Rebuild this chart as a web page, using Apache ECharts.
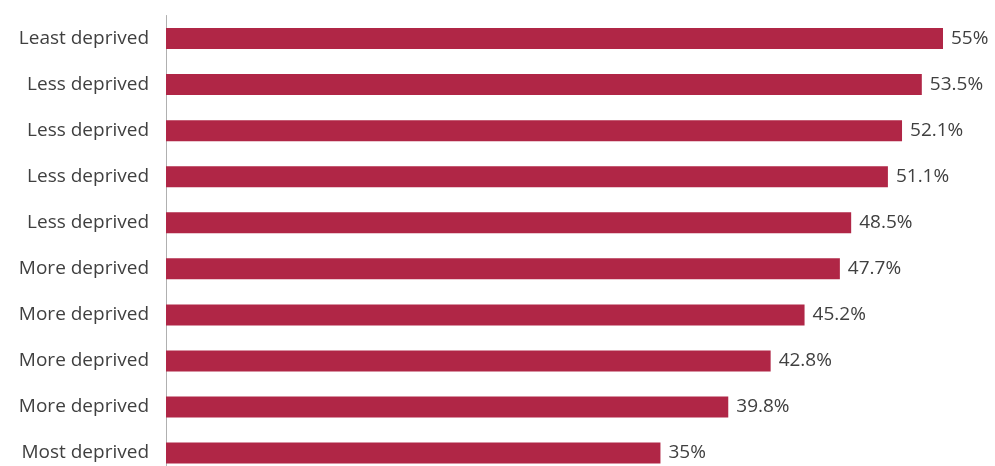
<!DOCTYPE html>
<html>
<head>
<meta charset="utf-8">
<script src="https://cdn.jsdelivr.net/npm/echarts@6/dist/echarts.min.js"></script>
<style>
html,body{margin:0;padding:0;background:#fff;}
#chart{width:995px;height:466px;}
</style>
</head>
<body>
<div id="chart"></div>
<script>
const categories = ["Least deprived","Less deprived","Less deprived","Less deprived","Less deprived","More deprived","More deprived","More deprived","More deprived","Most deprived"];
const values = [55, 53.5, 52.1, 51.1, 48.5, 47.7, 45.2, 42.8, 39.8, 35];

const chart = echarts.init(document.getElementById('chart'), null, {renderer:'canvas'});
chart.setOption({
  animation: false,
  backgroundColor: '#ffffff',
  grid: {left: 166, right: 52, top: 15.5, bottom: -10.1, containLabel: false, outerBoundsMode: 'none'},
  xAxis: {
    type: 'value', min: 0, max: 55,
    show: false
  },
  yAxis: {
    type: 'category',
    data: categories.map((c, i) => ({value: c + '#' + i})),
    inverse: true,
    axisLine: {show: true, lineStyle: {color: '#b0b0b0', width: 1}},
    axisTick: {show: false},
    axisLabel: {
      color: '#404040', fontSize: 19, fontFamily: 'Open Sans', margin: 17,
      formatter: v => v.split('#')[0]
    }
  },
  series: [{
    type: 'bar',
    data: values,
    barWidth: 21,
    itemStyle: {color: '#b02646'},
    label: {
      show: true, position: 'right', distance: 8,
      color: '#404040', fontSize: 19, fontFamily: 'Open Sans',
      formatter: p => p.value + '%'
    }
  }]
});
</script>
</body>
</html>
